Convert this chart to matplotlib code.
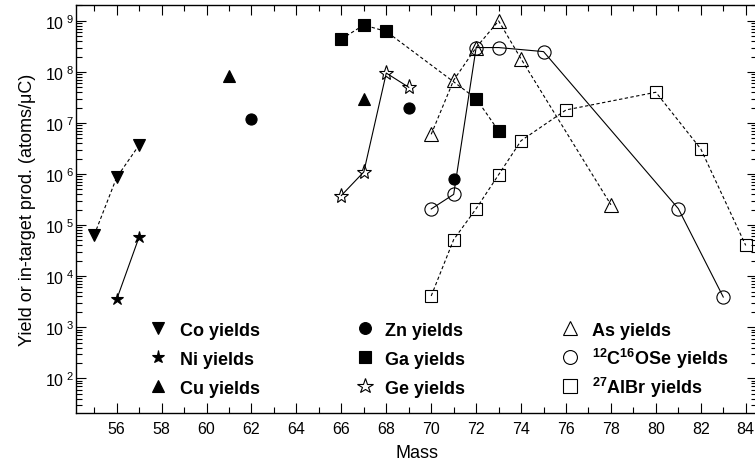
import numpy as np
import matplotlib
matplotlib.use("Agg")
from matplotlib import pyplot as plt
from matplotlib.ticker import FixedLocator, LogLocator, NullFormatter, MultipleLocator

plt.rcParams['font.family'] = ['Liberation Sans', 'DejaVu Sans']
plt.rcParams['mathtext.fontset'] = 'custom'
plt.rcParams['mathtext.rm'] = 'Liberation Sans'
plt.rcParams['mathtext.bf'] = 'Liberation Sans:bold'

# ################ Data. ################ #

co_mass = [55, 56, 57]
co_yield = [6.4e4, 8.6e5, 3.7e6]

ni_mass = [56, 57]
ni_yield = [3.5e3, 5.9e4]

cu_mass = [61, 67]
cu_yield = [8.4e7, 2.9e7]

zn_mass = [62, 69, 71]
zn_yield = [1.2e7, 2.0e7, 8.0e5]

ga_mass = [66, 67, 68, 72, 73]
ga_yield = [4.4e8, 8.3e8, 6.2e8, 3.0e7, 7.0e6]

ge_mass = [66, 67, 68, 69]
ge_yield = [3.8e5, 1.1e6, 9.5e7, 5.0e7]

as_mass = [70, 71, 72, 73, 74, 78]
as_yield = [6.0e6, 6.9e7, 3.0e8, 1.0e9, 1.8e8, 2.5e5]

cose_mass = [70, 71, 72, 73, 75, 81, 83]
cose_yield = [2.07e5, 4.0e5, 3.0e8, 3.0e8, 2.5e8, 2.1e5, 3.9e3]

albr_mass = [70, 71, 72, 73, 74, 76, 80, 82, 84]
albr_yield = [4.1e3, 5.2e4, 2.1e5, 9.7e5, 4.5e6, 1.8e7, 4.0e7, 3.1e6, 4.0e4]

legend_labels = ["Co yields", "Ni yields", "Cu yields",
                 "Zn yields", "Ga yields", "Ge yields",
                 "As yields", r"$\mathbf{^{12}C^{16}OSe\ yields}$",
                 r"$\mathbf{^{27}AlBr\ yields}$"]

# ################ Plot. ################ #

fig = plt.figure(figsize=(7.55, 4.64), dpi=100)
ax = fig.add_axes([0.101, 0.108, 0.9016, 0.878])

dash = (0, (3, 2.2))
lw = 0.8

# (marker, size, filled, linestyle) per series, same order as the legend
styles = [
    ('v', 8.5, True, dash),
    ('*', 9, True, '-'),
    ('^', 8.5, True, 'none'),
    ('o', 8, True, 'none'),
    ('s', 8.5, True, dash),
    ('*', 11, False, '-'),
    ('^', 10, False, dash),
    ('o', 9.5, False, '-'),
    ('s', 9, False, dash),
]
series = [(co_mass, co_yield), (ni_mass, ni_yield), (cu_mass, cu_yield),
          (zn_mass, zn_yield), (ga_mass, ga_yield), (ge_mass, ge_yield),
          (as_mass, as_yield), (cose_mass, cose_yield), (albr_mass, albr_yield)]

for (m, y), (mk, ms, filled, ls) in zip(series, styles):
    ax.plot(m, y, color='k', linestyle=ls, lw=lw, marker=mk, ms=ms,
            mfc='k' if filled else 'none', mew=0.8)

ax.set_yscale('log')
ax.set_xlim(54.2, 84.5)
ax.set_ylim(21, 2e9)

ax.xaxis.set_major_locator(MultipleLocator(2))
ax.xaxis.set_minor_locator(MultipleLocator(1))
ax.yaxis.set_major_locator(FixedLocator([10.0 ** e for e in range(2, 10)]))
ax.yaxis.set_minor_locator(LogLocator(base=10, subs=np.arange(2, 10)))
ax.yaxis.set_minor_formatter(NullFormatter())
ax.set_yticklabels([r"10$^{\ %d}$" % e for e in range(2, 10)])

ax.tick_params(which='both', direction='in', top=True, right=True,
               labelsize=11.5, width=0.8)
ax.tick_params(which='major', length=7)
ax.tick_params(which='minor', length=4)
ax.tick_params(axis='x', which='major', pad=5.5)
ax.tick_params(axis='y', which='major', pad=1.5)
for s in ax.spines.values():
    s.set_linewidth(1.0)

ax.set_xlabel("Mass", fontsize=13, labelpad=6)
ax.set_ylabel("Yield or in-target prod. (atoms/\u03bcC)", fontsize=13, labelpad=6)

# Legend: 3 columns x 3 rows, drawn in axes coordinates
col_marker_x = [0.120, 0.424, 0.725]
col_text_x = [0.152, 0.453, 0.757]
row_y = [0.2086, 0.1374, 0.0663]
for i, (lab, (mk, ms, filled, ls)) in enumerate(zip(legend_labels, styles)):
    c, r = divmod(i, 3)
    ax.plot([col_marker_x[c]], [row_y[r]], transform=ax.transAxes,
            color='k', linestyle='none', marker=mk, ms=ms + 0.5,
            mfc='k' if filled else 'none', mew=0.8, clip_on=False)
    ax.text(col_text_x[c], row_y[r] - 0.017, lab, transform=ax.transAxes,
            fontsize=13, fontweight='bold', ha='left', va='baseline')

fig.savefig("out.png", dpi=100)
